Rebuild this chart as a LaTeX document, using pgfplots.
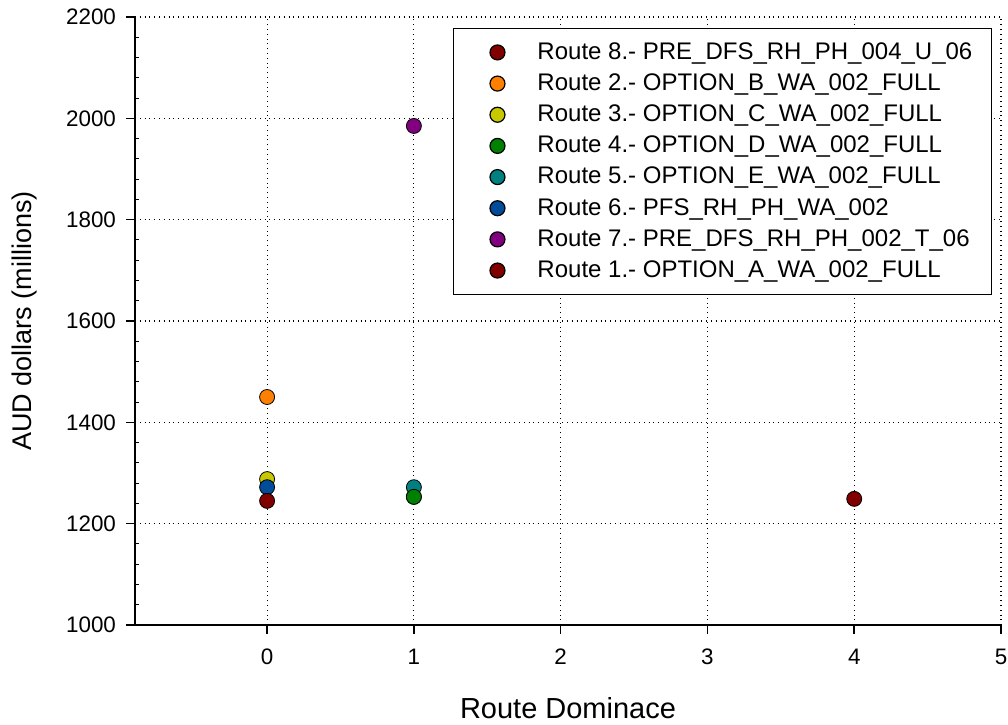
\documentclass[border=0pt]{standalone}
\usepackage{fontspec}
\setmainfont{Liberation Sans}
\usepackage{pgfplots}
\pgfplotsset{compat=1.18}

\definecolor{cr8}{RGB}{128,0,0}
\definecolor{cr2}{RGB}{255,128,0}
\definecolor{cr3}{RGB}{200,200,0}
\definecolor{cr4}{RGB}{0,128,0}
\definecolor{cr5}{RGB}{0,128,128}
\definecolor{cr6}{RGB}{0,76,153}
\definecolor{cr7}{RGB}{128,0,128}
\definecolor{cr1}{RGB}{128,0,0}

\begin{document}
\begin{tikzpicture}
\begin{axis}[
  scale only axis,
  width=433pt, height=304pt,
  xmin=-0.9, xmax=5, ymin=1000, ymax=2200,
  axis x line*=bottom, axis y line*=left,
  axis line style={line width=0.8pt},
  xtick={0,1,2,3,4,5},
  ytick={1000,1200,...,2200},
  minor y tick num=4,
  tick align=outside,
  major tick length=4.5pt,
  minor tick length=-2pt,
  tick style={black, line width=0.8pt},
  minor tick style={line width=0.5pt},
  grid=major,
  major grid style={black, dotted, line width=0.6pt},
  /pgf/number format/assume math mode=true,
  /pgf/number format/set thousands separator={},
  ticklabel style={font=\fontsize{11.2}{13}\selectfont},
  xticklabel style={yshift=-4pt},
  yticklabel style={xshift=-1.5pt},
  xlabel={Route Dominace},
  ylabel={AUD dollars (millions)},
  xlabel style={font=\fontsize{14.5}{17}\selectfont, inner sep=1pt,
    at={(axis description cs:0.5,-0.1365)}, anchor=center},
  ylabel style={font=\fontsize{13.5}{16}\selectfont,
    at={(axis description cs:-0.128,0.5)}, anchor=center},
  legend style={at={(axis description cs:0.9896,0.982)}, anchor=north east,
    draw=black, line width=0.6pt, fill=white,
    font=\fontsize{12}{14}\selectfont,
    cells={anchor=west}, row sep=1.7pt,
    inner xsep=7.5pt, inner ysep=5pt},
  legend image code/.code={
    \path[draw=none, fill=none] (0pt,-3pt) rectangle (32.5pt,3pt);
    \draw[#1] plot coordinates {(14.5pt,0pt)};},
  every axis plot/.append style={only marks, mark=*, mark size=3.75pt,
    mark options={draw=black, line width=0.75pt}},
]
\addplot[mark options={fill=cr8}] coordinates {(4,1249)};
\addlegendentry{Route 8.- PRE\_DFS\_RH\_PH\_004\_U\_06}
\addplot[mark options={fill=cr2}] coordinates {(0,1450)};
\addlegendentry{Route 2.- OPTION\_B\_WA\_002\_FULL}
\addplot[mark options={fill=cr3}] coordinates {(0,1288)};
\addlegendentry{Route 3.- OPTION\_C\_WA\_002\_FULL}
\addplot[mark options={fill=cr4}] coordinates {(1,1253)};
\addlegendentry{Route 4.- OPTION\_D\_WA\_002\_FULL}
\addplot[mark options={fill=cr5}] coordinates {(1,1272)};
\addlegendentry{Route 5.- OPTION\_E\_WA\_002\_FULL}
\addplot[mark options={fill=cr6}] coordinates {(0,1272)};
\addlegendentry{Route 6.- PFS\_RH\_PH\_WA\_002}
\addplot[mark options={fill=cr7}] coordinates {(1,1985)};
\addlegendentry{Route 7.- PRE\_DFS\_RH\_PH\_002\_T\_06}
\addplot[mark options={fill=cr1}] coordinates {(0,1245)};
\addlegendentry{Route 1.- OPTION\_A\_WA\_002\_FULL}
% green sits on top of teal in the reference
\addplot[forget plot, mark options={fill=cr4}] coordinates {(1,1253)};
\end{axis}
\pgfresetboundingbox
\path ([xshift=-67.5pt,yshift=-49.5pt]current axis.south west)
  rectangle ([xshift=3.5pt,yshift=8.5pt]current axis.north east);
\end{tikzpicture}
\end{document}
